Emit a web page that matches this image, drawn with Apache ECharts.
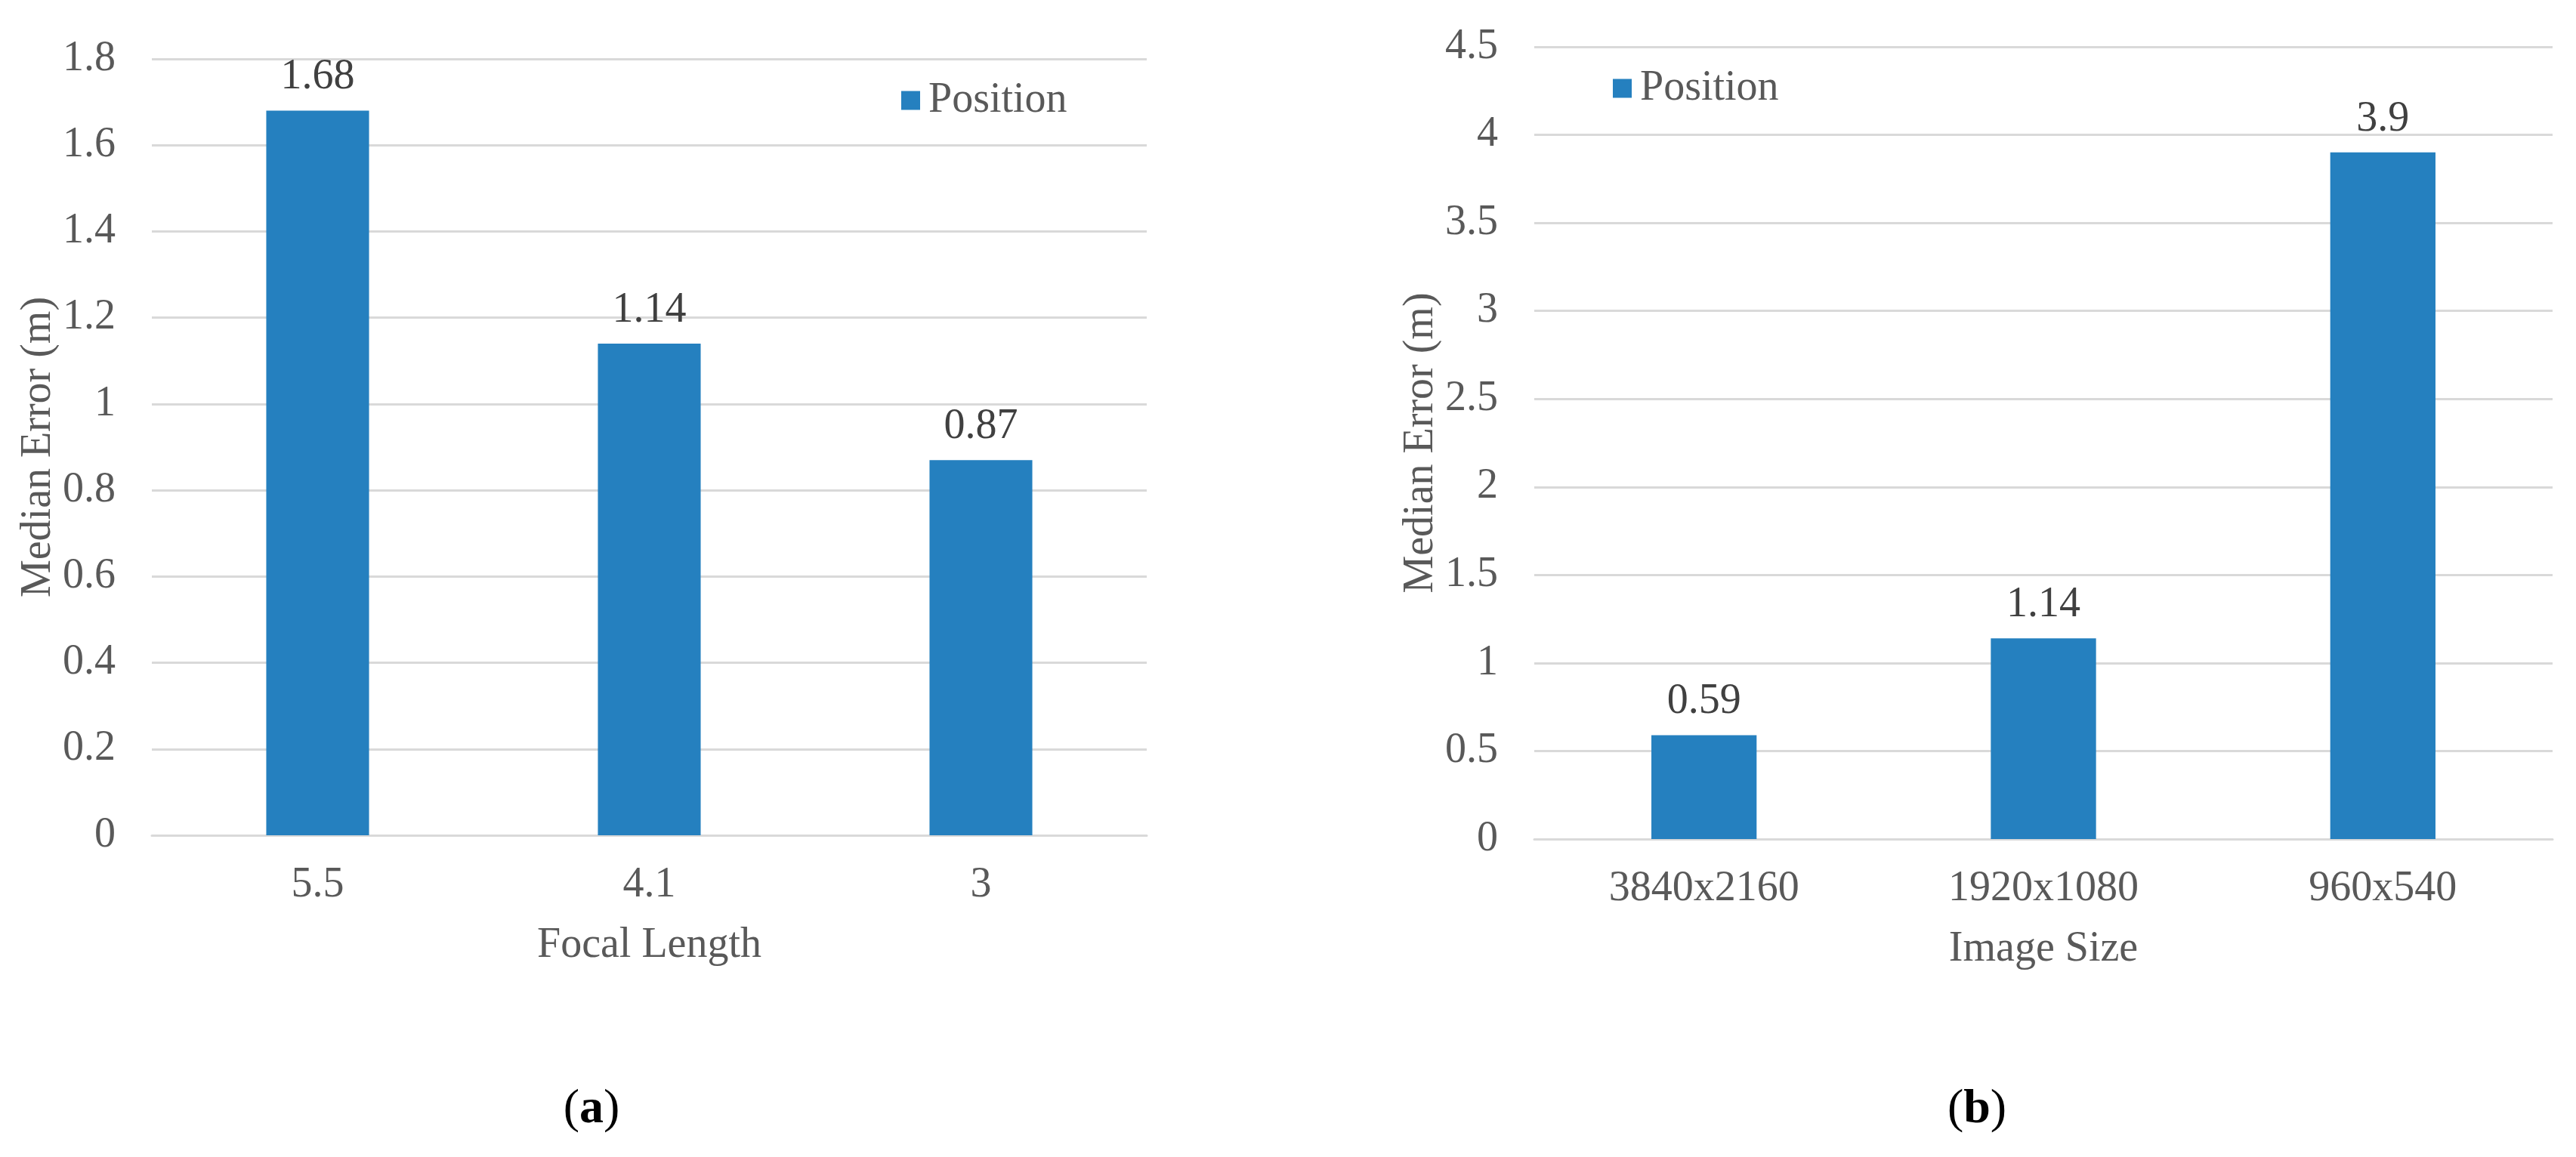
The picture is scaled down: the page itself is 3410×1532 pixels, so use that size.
<!DOCTYPE html>
<html>
<head>
<meta charset="utf-8">
<style>
  html, body { margin: 0; padding: 0; background: #ffffff; }
  #chart { width: 3410px; height: 1532px; }
</style>
<script src="https://cdn.jsdelivr.net/npm/echarts@6/dist/echarts.min.js"></script>
</head>
<body>
<div id="chart"></div>
<script>
// Panel (a)
const focalCategories = ['5.5', '4.1', '3'];
const focalValues = [1.68, 1.14, 0.87];
// Panel (b)
const sizeCategories = ['3840x2160', '1920x1080', '960x540'];
const sizeValues = [0.59, 1.14, 3.9];
const seriesName = 'Position';

const FONT = "'Liberation Serif', 'Times New Roman', serif";
const BAR = '#2580BF';
const GRID = '#D9D9D9';
const TXT = '#595959';
const FS = 56;

const chart = echarts.init(document.getElementById('chart'), null, { renderer: 'canvas' });

function yAxis(idx, max, interval) {
  return {
    type: 'value', gridIndex: idx, min: 0, max: max, interval: interval,
    name: 'Median Error (m)', nameLocation: 'middle', nameGap: 120,
    nameTextStyle: { fontFamily: FONT, fontSize: FS, color: TXT },
    axisLine: { show: false }, axisTick: { show: false },
    axisLabel: { fontFamily: FONT, fontSize: FS, color: TXT, margin: 48 },
    splitLine: { lineStyle: { color: GRID, width: 3 } }
  };
}
function xAxis(idx, cats, name) {
  return {
    type: 'category', gridIndex: idx, data: cats,
    name: name, nameLocation: 'middle', nameGap: 118,
    nameTextStyle: { fontFamily: FONT, fontSize: FS, color: TXT },
    axisLine: { show: true, lineStyle: { color: GRID, width: 3 } },
    axisTick: { show: false },
    axisLabel: { fontFamily: FONT, fontSize: FS, color: TXT, margin: 38 }
  };
}
function barSeries(idx, vals) {
  return {
    type: 'bar', name: seriesName, xAxisIndex: idx, yAxisIndex: idx,
    data: vals, barCategoryGap: '69%',
    itemStyle: { color: BAR },
    label: { show: true, position: 'top', distance: 16,
      fontFamily: FONT, fontSize: FS, color: '#404040' }
  };
}
function caption(letter, x) {
  return {
    text: '{p|(}{b|' + letter + '}{p|)}', left: x, top: 1432, textAlign: 'center',
    textStyle: { fontWeight: 'normal', fontFamily: FONT, rich: {
      p: { fontFamily: FONT, fontSize: 64, fontWeight: 'normal', color: '#000' },
      b: { fontFamily: FONT, fontSize: 64, fontWeight: 'bold', color: '#000' } } }
  };
}

chart.setOption({
  backgroundColor: '#ffffff',
  animation: false,
  title: [ caption('a', 778), caption('b', 2612) ],
  legend: [
    { data: [seriesName], left: 1188, top: 100, itemWidth: 25, itemHeight: 25,
      icon: 'rect', textStyle: { fontFamily: FONT, fontSize: FS, color: TXT, padding: [0, 0, 0, 6] } },
    { data: [seriesName], left: 2130, top: 84, itemWidth: 25, itemHeight: 25,
      icon: 'rect', textStyle: { fontFamily: FONT, fontSize: FS, color: TXT, padding: [0, 0, 0, 6] } }
  ],
  grid: [
    { left: 201, top: 78, width: 1317, height: 1028 },
    { left: 2031, top: 62, width: 1348, height: 1049 }
  ],
  xAxis: [ xAxis(0, focalCategories, 'Focal Length'), xAxis(1, sizeCategories, 'Image Size') ],
  yAxis: [ yAxis(0, 1.8, 0.2), yAxis(1, 4.5, 0.5) ],
  series: [ barSeries(0, focalValues), barSeries(1, sizeValues) ]
});
</script>
</body>
</html>
